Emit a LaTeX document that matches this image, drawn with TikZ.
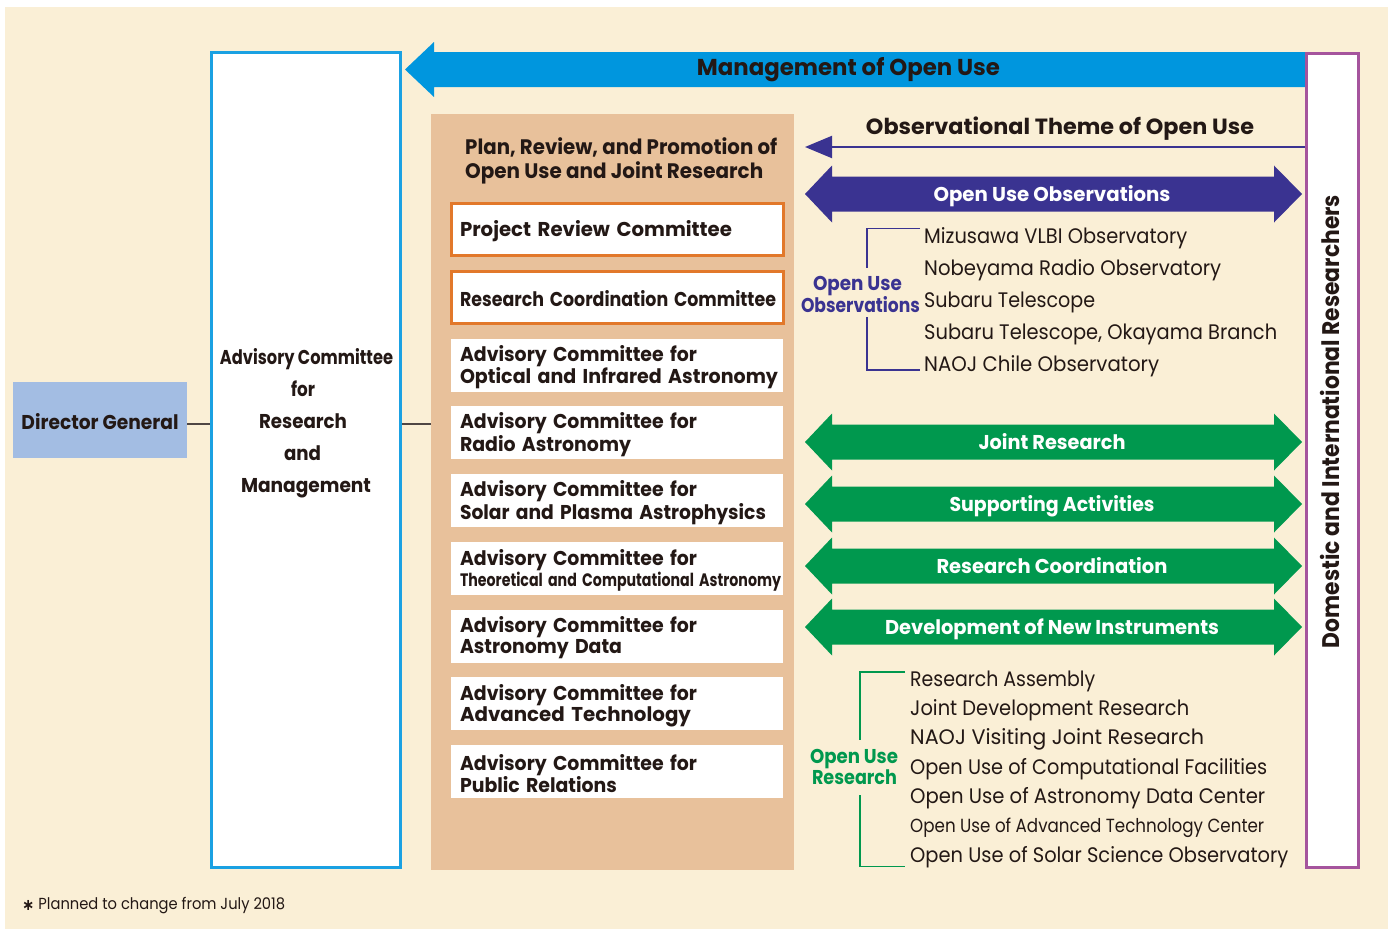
\documentclass[tikz,border=0pt]{standalone}
\usepackage{fontspec}
\setmainfont{Poppins}
\newfontfamily\djv{DejaVu Sans}
\usepackage{graphicx}
\usetikzlibrary{arrows.meta}
\definecolor{cream}{HTML}{FAEFD6}
\definecolor{skyblue}{HTML}{0096DE}
\definecolor{peach}{HTML}{E8C19B}
\definecolor{burnt}{HTML}{E2782A}
\definecolor{indigo}{HTML}{3A3391}
\definecolor{grn}{HTML}{00984E}
\definecolor{plum}{HTML}{A5549D}
\definecolor{dgblue}{HTML}{A3BDE3}
\definecolor{ink}{HTML}{231815}
\definecolor{boxblue}{HTML}{1BA1E2}
\newcommand\fw[2]{\resizebox{#1pt}{\height}{#2}}
\newcommand\dblarr[4]{%
  \fill[#2] (805,#1) -- (832,{#1-28.5}) -- (832,{#1-17.5}) -- (1274,{#1-17.5}) -- (1274,{#1-28.5}) -- (1302,#1) -- (1274,{#1+28.5}) -- (1274,{#1+17.5}) -- (832,{#1+17.5}) -- (832,{#1+28.5}) -- cycle;
  \node[arrtxt] (#3) at (1052,#1) {#4};}
\newcommand\lift{\rule{0pt}{20pt}}
\tikzset{
  txt/.style={inner sep=0pt, text=ink, yshift=-5pt},
  ttl/.style={txt, font=\fontsize{23}{26}\selectfont\bfseries},
  bt/.style={txt, font=\fontsize{20}{21}\selectfont\bfseries},
  item/.style={txt, font=\fontsize{21}{24}\selectfont, anchor=mid west},
  arrtxt/.style={inner sep=0pt, text=white, font=\fontsize{20}{22}\selectfont\bfseries, anchor=mid, yshift=-5pt},
  cbox/.style={fill=white, minimum height=53pt, text width=314pt, inner xsep=9pt, inner ysep=0pt, align=left, font=\fontsize{20}{21}\selectfont\bfseries, text=ink},
  obox/.style={cbox, draw=burnt, line width=3pt, minimum height=52pt, inner xsep=8.5pt, text width=315pt},
  link/.style={draw=ink!80, line width=1.3pt},
  brk/.style={line width=1.3pt},
}
\begin{document}
\begin{tikzpicture}[x=1pt,y=-1pt]
\useasboundingbox (0,0) rectangle (1393,929);
\fill[cream] (5,7) rectangle (1388,929);

% left column
\node[fill=dgblue, minimum width=174pt, minimum height=76pt, inner sep=0pt, text=ink, font=\fontsize{20}{21}\selectfont\bfseries] (dg) at (100,420) {\lift\fw{157}{Director General}};
\node[draw=boxblue, line width=3pt, fill=white, minimum width=189pt, minimum height=815pt] (acrm) at (306,460) {};
\node[bt, anchor=mid] (a1) at (306.5,357) {\fw{173}{Advisory Committee}};
\node[bt, anchor=mid] (a2) at (303,389) {\fw{24}{for}};
\node[bt, anchor=mid] (a3) at (303,421) {\fw{88}{Research}};
\node[bt, anchor=mid] (a4) at (302.5,453) {\fw{37}{and}};
\node[bt, anchor=mid] (a5) at (306,485) {\fw{130}{Management}};

% central panel
\node[fill=peach, minimum width=363pt, minimum height=756pt] (panel) at (612.5,492) {};
\node[ttl, anchor=mid west, font=\fontsize{21}{24}\selectfont\bfseries] (pt1) at (465,147) {\fw{312}{Plan, Review, and Promotion of}};
\node[ttl, anchor=mid west, font=\fontsize{21}{24}\selectfont\bfseries] (pt2) at (465,171) {\fw{298}{Open Use and Joint Research}};
\node[obox] (prc) at (617.5,229.5) {\lift\fw{272}{Project Review Committee}};
\node[obox] (rcc) at (617.5,297) {\lift\fw{316}{Research Coordination Committee}};
\node[cbox] (c1) at (617,365) {\lift\fw{237}{Advisory Committee for}\\\fw{318}{Optical and Infrared Astronomy}};
\node[cbox] (c2) at (617,432.5) {\lift\fw{237}{Advisory Committee for}\\\fw{171}{Radio Astronomy}};
\node[cbox] (c3) at (617,500.5) {\lift\fw{237}{Advisory Committee for}\\\fw{306}{Solar and Plasma Astrophysics}};
\node[cbox] (c4) at (617,568.5) {\lift\fw{237}{Advisory Committee for}\\{\fontsize{18}{21}\selectfont\fw{321}{Theoretical and Computational Astronomy}}};
\node[cbox] (c5) at (617,636) {\lift\fw{237}{Advisory Committee for}\\\fw{162}{Astronomy Data}};
\node[cbox] (c6) at (617,703.5) {\lift\fw{237}{Advisory Committee for}\\\fw{231}{Advanced Technology}};
\node[cbox] (c7) at (617,771.5) {\lift\fw{237}{Advisory Committee for}\\\fw{157}{Public Relations}};

% connectors
\coordinate (j1) at ([yshift=-4pt]dg.east);
\draw[link] (j1) -- (j1 -| acrm.west);
\draw[link] (j1 -| acrm.east) -- (j1 -| panel.west);

% top arrow
\fill[skyblue] (1306,52) -- (434,52) -- (434,42) -- (405,69.5) -- (434,97) -- (434,87) -- (1306,87) -- cycle;
\node[ttl, anchor=mid] (mou) at (848.5,68) {\fw{303}{Management of Open Use}};

% researchers box
\node[draw=plum, line width=3pt, fill=white, minimum width=52.5pt, minimum height=814pt] (pr) at (1332.7,460.5) {};
\node[inner sep=0pt, text=ink, rotate=90, font=\fontsize{24}{26}\selectfont\bfseries] (prt) at (1330,421.5) {\fw{453}{Domestic and International Researchers}};

% observational theme
\coordinate (oty) at (0,147);
\coordinate (otend) at (805,147);
\draw[indigo, line width=2pt, -{Triangle[length=27pt,width=22pt]}] (pr.west |- oty) -- (otend);
\node[ttl, anchor=mid, font=\fontsize{22}{24}\selectfont\bfseries] (otl) at (1060,127) {\fw{388}{Observational Theme of Open Use}};

% double arrows
\dblarr{194}{indigo}{ouo}{\fw{237}{Open Use Observations}}
\dblarr{442}{grn}{jr}{\fw{147}{Joint Research}}
\dblarr{504}{grn}{sa}{\fw{205}{Supporting Activities}}
\dblarr{566}{grn}{rc}{\fw{231}{Research Coordination}}
\dblarr{627}{grn}{dni}{\fw{334}{Development of New Instruments}}

% observation bracket
\draw[indigo, brk] (920,228.5) -- (867,228.5) -- (867,268);
\draw[indigo, brk] (867,317) -- (867,370) -- (920,370);
\node[txt, text=indigo, font=\fontsize{20}{22}\selectfont\bfseries, anchor=mid] (oul) at (857.5,283) {\fw{89}{Open Use}};
\node[txt, text=indigo, font=\fontsize{20}{22}\selectfont\bfseries, anchor=mid] (obl) at (860.5,305) {\fw{119}{Observations}};
\node[item] (o1) at (924,236) {\fw{263}{Mizusawa VLBI Observatory}};
\node[item] (o2) at (924,268) {\fw{297}{Nobeyama Radio Observatory}};
\node[item] (o3) at (924,300) {\fw{171}{Subaru Telescope}};
\node[item] (o4) at (924,332) {\fw{353}{Subaru Telescope, Okayama Branch}};
\node[item] (o5) at (924,364) {\fw{235}{NAOJ Chile Observatory}};

% research bracket
\draw[grn, brk] (905,672) -- (860,672) -- (860,740);
\draw[grn, brk] (860,795) -- (860,866.5) -- (905,866.5);
\node[txt, text=grn, font=\fontsize{20}{22}\selectfont\bfseries, anchor=mid] (ourl) at (854,756) {\fw{88}{Open Use}};
\node[txt, text=grn, font=\fontsize{20}{22}\selectfont\bfseries, anchor=mid] (rsl) at (854.5,777) {\fw{85}{Research}};
\node[item] (r1) at (910,679) {\fw{185}{Research Assembly}};
\node[item] (r2) at (910,708) {\fw{279}{Joint Development Research}};
\node[item] (r3) at (910,737) {\fw{294}{NAOJ Visiting Joint Research}};
\node[item] (r4) at (910,767) {\fw{357}{Open Use of Computational Facilities}};
\node[item] (r5) at (910,796) {\fw{355}{Open Use of Astronomy Data Center}};
\node[item, font=\fontsize{19}{22}\selectfont] (r6) at (910,825) {\fw{354}{Open Use of Advanced Technology Center}};
\node[item] (r7) at (910,855) {\fw{378}{Open Use of Solar Science Observatory}};

% footnote
\node[txt, anchor=mid west, font=\fontsize{16}{18}\selectfont] (fn) at (22,902) {\fw{263}{{\djv\bfseries\raisebox{-1pt}{∗}} Planned to change from July 2018}};
\end{tikzpicture}
\end{document}
